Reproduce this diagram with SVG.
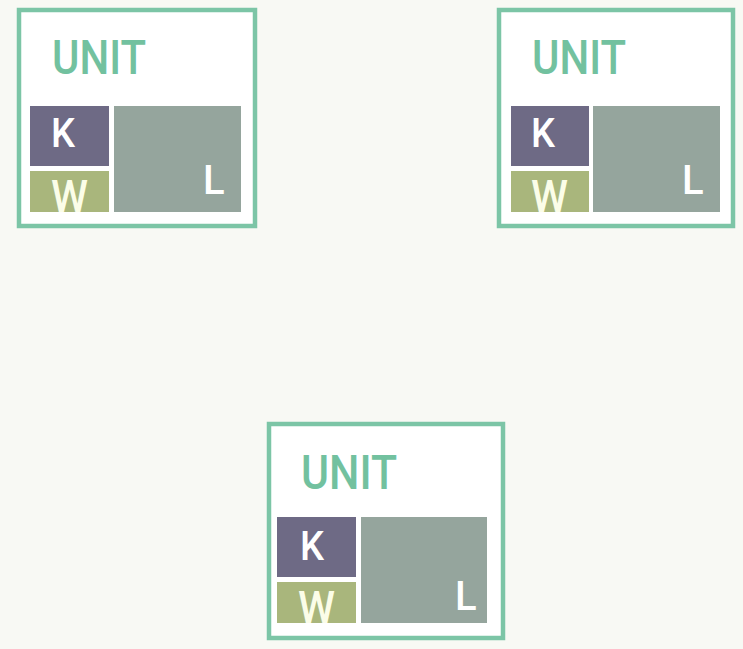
<svg xmlns="http://www.w3.org/2000/svg" width="743" height="649" viewBox="0 0 743 649">
<style>
.frame{fill:#ffffff;stroke:#7cc5a6;stroke-width:4.5}
.k{fill:#6e6a85}
.w{fill:#a9b67c}
.l{fill:#95a59d}
.title{font-family:Roboto,"Liberation Sans",Arial,sans-serif;font-weight:500;font-size:48px;fill:#72c19f}
.lbl{font-family:Roboto,"Liberation Sans",Arial,sans-serif;font-weight:500;font-size:40px;fill:#ffffff}
.wl{fill:#fbfde8;font-size:44px}
</style>
<rect width="743" height="649" fill="#f8f9f4"/>
<g id="connectors"></g>
<g id="unit1">
<rect class="frame" x="19" y="10" width="236" height="216"/>
<text class="title" x="52" y="74" textLength="94" lengthAdjust="spacingAndGlyphs">UNIT</text>
<rect class="k" x="30" y="106" width="79" height="60"/>
<rect class="w" x="30" y="171" width="79" height="41"/>
<rect class="l" x="114" y="106" width="127" height="106"/>
<text class="lbl" x="51" y="147" textLength="24" lengthAdjust="spacingAndGlyphs">K</text>
<text class="lbl wl" x="51" y="212" textLength="37" lengthAdjust="spacingAndGlyphs">W</text>
<text class="lbl" x="203" y="194">L</text>
</g>
<g id="unit2">
<rect class="frame" x="499" y="10" width="234" height="216"/>
<text class="title" x="532" y="74" textLength="94" lengthAdjust="spacingAndGlyphs">UNIT</text>
<rect class="k" x="511" y="106" width="78" height="60"/>
<rect class="w" x="511" y="171" width="78" height="41"/>
<rect class="l" x="593" y="106" width="127" height="106"/>
<text class="lbl" x="531" y="147" textLength="24" lengthAdjust="spacingAndGlyphs">K</text>
<text class="lbl wl" x="531" y="212" textLength="37" lengthAdjust="spacingAndGlyphs">W</text>
<text class="lbl" x="682" y="194">L</text>
</g>
<g id="unit3">
<rect class="frame" x="269" y="424" width="234" height="214"/>
<text class="title" x="301" y="489" textLength="96" lengthAdjust="spacingAndGlyphs">UNIT</text>
<rect class="k" x="277" y="517" width="79" height="60"/>
<rect class="w" x="277" y="582" width="79" height="41"/>
<rect class="l" x="361" y="517" width="126" height="106"/>
<text class="lbl" x="300" y="560" textLength="24" lengthAdjust="spacingAndGlyphs">K</text>
<text class="lbl wl" x="298" y="623" textLength="37" lengthAdjust="spacingAndGlyphs">W</text>
<text class="lbl" x="455" y="610">L</text>
</g>
</svg>
